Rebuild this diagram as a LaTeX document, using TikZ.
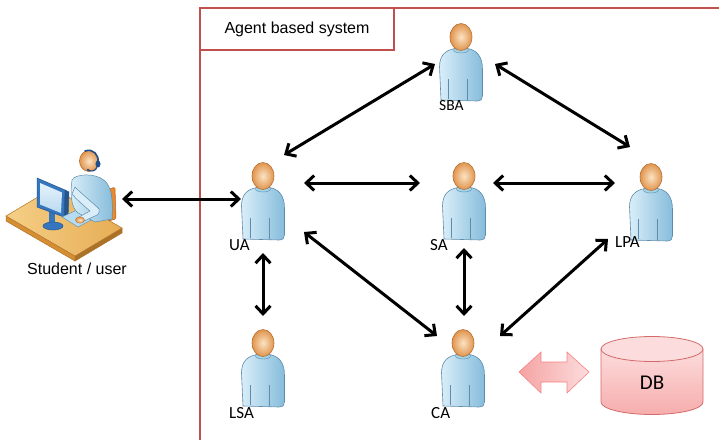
\documentclass[tikz,border=0pt]{standalone}
\usepackage{fontspec}
\setmainfont{Liberation Sans}
\newfontfamily\agentfont{Carlito}
\usetikzlibrary{arrows.meta}

\definecolor{framered}{HTML}{C0504D}
\definecolor{skinlight}{HTML}{FCE3C4}
\definecolor{skindark}{HTML}{E0954E}
\definecolor{skinline}{HTML}{B87034}
\definecolor{shirtlight}{HTML}{D9EEF9}
\definecolor{shirtdark}{HTML}{86BCDB}
\definecolor{shirtline}{HTML}{5E8CAB}
\definecolor{collar}{HTML}{9FD3EA}
\definecolor{desklight}{HTML}{F5CF86}
\definecolor{deskdark}{HTML}{E6AD55}
\definecolor{deskside}{HTML}{D58E32}
\definecolor{deskline}{HTML}{B27328}
\definecolor{chair}{HTML}{E8892A}
\definecolor{chairline}{HTML}{B8621A}
\definecolor{monitor}{HTML}{3676BE}
\definecolor{monitorline}{HTML}{24558F}
\definecolor{screenlight}{HTML}{E6F3FB}
\definecolor{screendark}{HTML}{B9DAF0}
\definecolor{keyboard}{HTML}{B5DCF0}
\definecolor{headset}{HTML}{1F4E8C}
\definecolor{dbtop}{HTML}{FCDCDC}
\definecolor{dbfill}{HTML}{F7ADAD}
\definecolor{dbline}{HTML}{D36B6B}
\definecolor{dbarrowdark}{HTML}{F5A3A3}
\definecolor{dbarrowlight}{HTML}{FCDCDC}

\tikzset{
  link/.style={line width=3pt, black,
    {Straight Barb[length=8pt,width=15pt]}-{Straight Barb[length=8pt,width=15pt]}},
  anchorpt/.style={inner sep=0pt, minimum size=0pt},
  agentname/.style={font=\agentfont\fontsize{17}{19}\selectfont, inner sep=0pt, anchor=west},
  titlebox/.style={draw=framered, line width=2.4pt, fill=white, minimum width=194pt,
    minimum height=42pt, inner sep=0pt, font=\fontsize{16}{18}\selectfont},
  plainlabel/.style={font=\fontsize{16}{18}\selectfont, inner sep=0pt},
  dblabel/.style={font=\agentfont\fontsize{21}{24}\selectfont, inner sep=0pt},
  % an agent: head centred on the pic origin, torso below
  agent/.pic={
    \shadedraw[left color=shirtlight, right color=shirtdark, draw=shirtline, line width=0.6pt]
      (-20,63) -- (-21.5,30) .. controls (-21.5,18) and (-15,13) .. (-6,11.5)
      -- (6,11.5) .. controls (15,12.5) and (21.5,19) .. (21.5,32)
      -- (21.5,59) .. controls (21.5,62) and (20,64) .. (16,64) -- cycle;
    \draw[shirtline, line width=0.5pt] (-13,42) -- (-13,62) (6,42) -- (6,63);
    \filldraw[fill=collar, draw=shirtline, line width=0.4pt] (0,13) ellipse [x radius=7.5pt, y radius=3pt];
    \shadedraw[inner color=skinlight, outer color=skindark, draw=skinline, line width=0.6pt]
      (0,0) ellipse [x radius=11pt, y radius=13.5pt];
  },
  % the student at the desk
  student/.pic={
    \filldraw[fill=deskside, draw=deskline, line width=0.5pt] (-59,11) -- (10,51) -- (10,56) -- (-59,16) -- cycle;
    \filldraw[fill=deskside!80!black, draw=deskline, line width=0.5pt] (10,51) -- (57,23) -- (57,28) -- (10,56) -- cycle;
    \shadedraw[left color=desklight, right color=deskdark, draw=deskline, line width=0.5pt]
      (-59,11) -- (-12,-17) -- (57,23) -- (10,51) -- cycle;
    \filldraw[fill=chair, draw=chairline, line width=0.5pt, rounded corners=1.5pt]
      (42,-15) -- (50,-18) -- (51,14) -- (43,16) -- cycle;
    \fill[monitor] (-16,6) rectangle (-10,20);
    \filldraw[fill=monitor, draw=monitorline, line width=0.5pt] (-12,21) ellipse [x radius=10pt, y radius=4pt];
    \filldraw[fill=monitorline, draw=monitorline, line width=0.5pt] (0,-15) -- (4,-13) -- (3,13) -- (-1,12) -- cycle;
    \filldraw[fill=monitor, draw=monitorline, line width=0.5pt] (-28,-27) -- (0,-15) -- (-1,12) -- (-28,2) -- cycle;
    \shade[top color=screenlight, bottom color=screendark] (-25,-22) -- (-3,-12.5) -- (-4,8) -- (-25,-0.5) -- cycle;
    \filldraw[fill=keyboard, draw=shirtline, line width=0.4pt] (-3,12) -- (12,5) -- (28,14) -- (13,22) -- cycle;
    \shadedraw[left color=shirtlight, right color=shirtdark, draw=shirtline, line width=0.5pt]
      (7,-25) .. controls (10,-31) and (30,-33) .. (40,-24) .. controls (47,-17) and (48,-5) .. (47,14)
      -- (30,17) -- (13,8) .. controls (6,3) and (5,-12) .. (7,-25) -- cycle;
    \filldraw[fill=shirtlight, draw=shirtline, line width=0.5pt]
      (10,-18) .. controls (18,-10) and (28,-2) .. (34,4) .. controls (35,8) and (33,10) .. (30,11)
      -- (17,17) -- (14,12) -- (25,6) .. controls (18,0) and (11,-6) .. (7,-11) -- cycle;
    \shadedraw[inner color=skinlight, outer color=skindark, draw=skinline, line width=0.4pt]
      (15,15) ellipse [x radius=4.5pt, y radius=3.2pt];
    \shadedraw[inner color=skinlight, outer color=skindark, draw=skinline, line width=0.6pt]
      (24,-44) ellipse [x radius=9.5pt, y radius=10.5pt];
    \draw[headset, line width=1.6pt, line cap=round] (20,-54) .. controls (28,-57) and (34,-50) .. (33,-43);
    \fill[headset] (33,-41) ellipse [x radius=2.5pt, y radius=3.5pt];
    \draw[headset, line width=1.1pt, line cap=round] (32,-38) .. controls (31,-34) and (27,-33) .. (23,-35);
    \fill[headset] (23,-35) circle [radius=1.3pt];
  }
}

\begin{document}
\begin{tikzpicture}[x=1pt,y=-1pt]
\useasboundingbox (0,0) rectangle (719,439);

% system boundary and its title tab
\draw[framered, line width=2.4pt] (730,8) -- (200,8) -- (200,450);
\node[titlebox] (title) at (297,29) {Agent based system};

% user
\node[anchorpt] (student) at (65,205) {};
\pic at (student) {student};
\node[plainlabel] (studentlbl) at (77,269) {Student / user};

% agents
\node[anchorpt] (SBA) at (461,37) {};
\node[anchorpt] (UA)  at (263,176) {};
\node[anchorpt] (SA)  at (464,176) {};
\node[anchorpt] (LPA) at (651,177) {};
\node[anchorpt] (LSA) at (263,343) {};
\node[anchorpt] (CA)  at (463,343) {};
\foreach \a in {SBA,UA,SA,LPA,LSA,CA} { \pic at (\a) {agent}; }

\node[agentname, font=\agentfont\fontsize{15.5}{17}\selectfont] (SBAlbl) at (439,106) {SBA};
\node[agentname] (UAlbl)  at (229,245) {UA};
\node[agentname] (SAlbl)  at (430,245) {SA};
\node[agentname] (LPAlbl) at (615,242) {LPA};
\node[agentname] (LSAlbl) at (229,413) {LSA};
\node[agentname] (CAlbl)  at (431,413) {CA};

% database and its access arrow
\shadedraw[top color=dbtop, bottom color=dbfill, draw=dbline, line width=0.8pt]
  (601,349) -- (601,402) .. controls (601,408.9) and (623.8,414.5) .. (652,414.5)
  .. controls (680.2,414.5) and (703,408.9) .. (703,402) -- (703,349) -- cycle;
\filldraw[fill=dbtop, draw=dbline, line width=0.8pt] (652,349) ellipse [x radius=51pt, y radius=12.5pt];
\node[dblabel] (db) at (652,383) {DB};
\shadedraw[left color=dbarrowdark, right color=dbarrowlight, draw=dbarrowdark!80!red, line width=0.6pt]
  (519,372) -- (541,352) -- (541,362) -- (567,362) -- (567,352) -- (589,372)
  -- (567,393) -- (567,382) -- (541,382) -- (541,393) -- cycle;

% communication links
\draw[link] ([shift={(57,-6)}]student.center) -- ([shift={(-22,23)}]UA.center);
\draw[link] ([shift={(41,7)}]UA.center) -- ([shift={(-44,7)}]SA.center);
\draw[link] ([shift={(29,7)}]SA.center) -- ([shift={(-36,6)}]LPA.center);
\draw[link] ([shift={(21,-21)}]UA.center) -- ([shift={(-26,27)}]SBA.center);
\draw[link] ([shift={(34,27)}]SBA.center) -- ([shift={(-21,-30)}]LPA.center);
\draw[link] ([shift={(0,77)}]UA.center) -- ([shift={(0,-27)}]LSA.center);
\draw[link] ([shift={(0,72)}]SA.center) -- ([shift={(1,-27)}]CA.center);
\draw[link] ([shift={(41,56)}]UA.center) -- ([shift={(-26,-7)}]CA.center);
\draw[link] ([shift={(-43,62)}]LPA.center) -- ([shift={(37,-7)}]CA.center);
\end{tikzpicture}
\end{document}
